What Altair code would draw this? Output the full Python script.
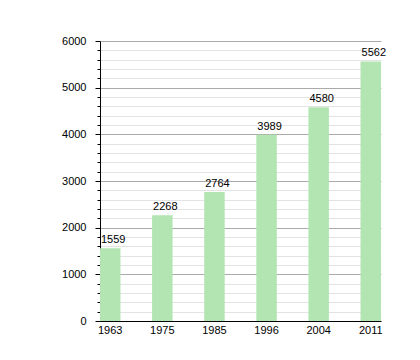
import altair as alt
import pandas as pd

years = ["1963", "1975", "1985", "1996", "2004", "2011"]
population = [1559, 2268, 2764, 3989, 4580, 5562]

df = pd.DataFrame({"year": years, "pop": population})

FONT = "Liberation Sans"

x = alt.X("year:N", sort=years, title=None,
          scale=alt.Scale(paddingInner=0.607, paddingOuter=0),
          axis=alt.Axis(labelAngle=0, tickSize=0, labelPadding=3, domainColor="#000",
                        labelColor="#000", labelFont=FONT, labelFontSize=11, grid=False))
y = alt.Y("pop:Q", title=None,
          scale=alt.Scale(domain=[0, 6000], nice=False),
          axis=alt.Axis(values=list(range(0, 6001, 200)),
                        labelExpr="datum.value % 1000 === 0 ? datum.label : ''",
                        format="d",
                        grid=True,
                        gridColor={"condition": {"test": "datum.value % 1000 === 0", "value": "#aaaaaa"}, "value": "#e3e3e3"},
                        tickSize={"condition": {"test": "datum.value % 1000 === 0", "value": 5}, "value": 3},
                        tickColor="#000", domainColor="#000",
                        labelPadding=9, labelColor="#000", labelFont=FONT, labelFontSize=11))

base = alt.Chart(df).encode(x=x, y=y)
bars = base.mark_bar(color="#b2e5b2")
labels = base.mark_text(baseline="alphabetic", dy=-5, dx=3, font=FONT, fontSize=11, color="#000").encode(
    text="pop:Q")

chart = alt.layer(bars, labels).properties(
    width=281, height=280,
    background="white",
    autosize=alt.AutoSizeParams(type="none"),
    padding={"left": 92, "top": 33, "right": 30, "bottom": 30},
).configure_view(stroke=None)

chart.save("out.html", embed_options={"renderer": "svg", "actions": False})
